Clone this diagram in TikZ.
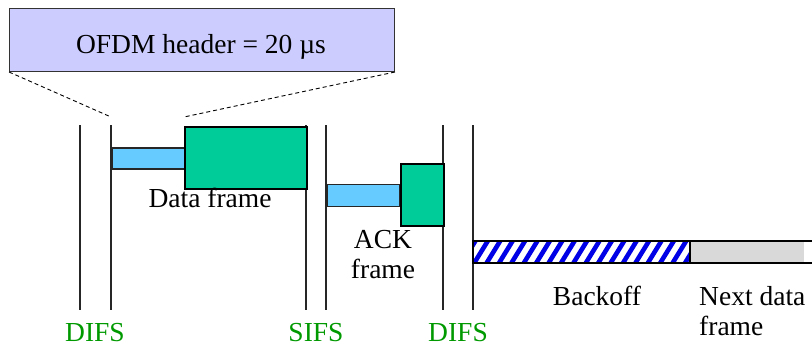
\documentclass[tikz,border=0pt]{standalone}
\usepackage{fontspec}
\setmainfont{Liberation Serif}
\usetikzlibrary{fit}
\begin{document}
\begin{tikzpicture}[x=1pt,y=-1pt,
  txt/.style={font=\fontsize{27.5}{30}\selectfont, inner sep=0pt, align=center},
  ifs/.style={txt, text=green!60!black},
  marker/.style={line width=1.2pt, black!85},
  hdr/.style={draw=black!85, line width=1.5pt, fill=headerblue},
  body/.style={draw=black, line width=2pt, fill=framegreen},
  zoomline/.style={line width=0.9pt, dash pattern=on 4pt off 3pt}]
\useasboundingbox (0,0) rectangle (812,348);
\definecolor{headerblue}{RGB}{102,204,255}
\definecolor{framegreen}{RGB}{0,204,153}
\definecolor{ofdm}{RGB}{204,204,255}
\definecolor{nextgray}{RGB}{217,217,217}
\definecolor{hatchblue}{RGB}{0,0,230}

% OFDM header call-out
\node[draw=black!80, line width=1pt, fill=ofdm, minimum width=385pt, minimum height=63pt,
      anchor=north west, inner sep=0pt] (ofdm) at (9,8) {};
\node[txt] (ofdmtxt) at (201,47) {OFDM header = 20 µs};

% slot markers
\foreach \n/\x in {d1a/80, d1b/111, s1a/306, s1b/326, d2a/443, d2b/473} {
  \coordinate (\n top) at (\x,125);
  \coordinate (\n bot) at (\x,310);
  \draw[marker] (\n top) -- (\n bot);
}

% data frame
\node[hdr, minimum width=73pt, minimum height=21pt, anchor=north west, inner sep=0pt] (dhdr) at (111,147) {};
\node[body, minimum width=122pt, minimum height=62pt, anchor=north west, inner sep=0pt] (dbody) at (184,126) {};
\node[txt] (dlabel) at (210,198) {Data frame};

% zoom lines from header to call-out
\coordinate (z1) at (111,117);
\coordinate (z2) at (184,117);
\draw[zoomline] (ofdm.south west) -- (z1);
\draw[zoomline] (ofdm.south east) -- (z2);

% ACK frame
\node[hdr, minimum width=73pt, minimum height=22pt, anchor=north west, inner sep=0pt] (ahdr) at (326,183.5) {};
\node[body, minimum width=43pt, minimum height=62pt, anchor=north west, inner sep=0pt] (abody) at (399.5,163) {};
\node[txt] (alabel) at (383,255) {ACK\\[0pt]frame};

% backoff (hatched)
\coordinate (bo1) at (473,241);
\coordinate (bo2) at (690,263);
\begin{scope}
  \clip (bo1) rectangle (bo2);
  \foreach \k in {-2,...,20}
    \draw[hatchblue, line width=4.6pt] (473+12.4*\k,265) -- (473+12.4*\k+16,239);
\end{scope}
\node[draw=black, line width=1.3pt, fit={(bo1)(bo2)}, inner sep=0pt] (backoff) {};
\node[txt] (blabel) at (597,296) {Backoff};

% next data frame (runs off the right edge)
\fill[nextgray] (690,241) rectangle (804,263);
\draw[line width=2pt] (830,241) -- (690,241) -- (690,263) -- (830,263);
\node[txt, align=left, anchor=west] (nlabel) at (699,311) {Next data\\[0pt]frame};

% interframe space labels
\node[ifs] (difs1) at (95,333) {DIFS};
\node[ifs] (sifs) at (316,333) {SIFS};
\node[ifs] (difs2) at (458,333) {DIFS};
\end{tikzpicture}
\end{document}
